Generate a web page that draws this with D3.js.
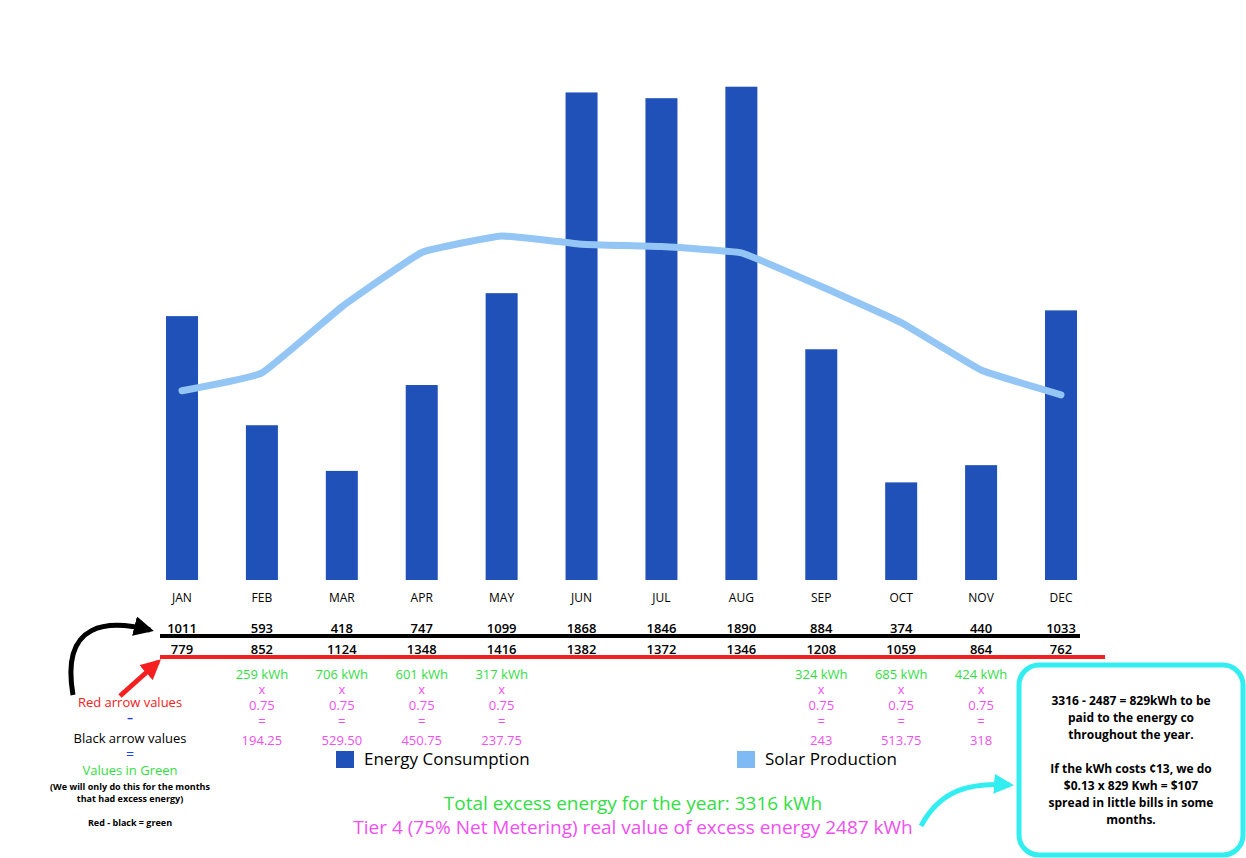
<!DOCTYPE html>
<html><head><meta charset="utf-8">
<script src="https://cdn.jsdelivr.net/npm/d3@7"></script>
<style>body{margin:0;background:#fff}text{font-family:"Open Sans",sans-serif}</style>
</head><body>
<svg id="c" width="1246" height="858"></svg>
<script>
var months = ["JAN","FEB","MAR","APR","MAY","JUN","JUL","AUG","SEP","OCT","NOV","DEC"];
var consumption = [1011,593,418,747,1099,1868,1846,1890,884,374,440,1033];
var solar = [779,852,1124,1348,1416,1382,1372,1346,1208,1059,864,762];
var excess = [null,259,706,601,317,null,null,null,324,685,424,null];
var credited = [null,"194.25","529.50","450.75","237.75",null,null,null,"243","513.75","318",null];

var svg = d3.select("#c");
var x = d3.scalePoint().domain(months).range([182, 1061]);
var yBar = d3.scaleLinear().domain([0, 2000]).range([580, 58]);
var yLine = d3.scaleLinear().domain([0, 2000]).range([580, 94]);

// bars
svg.selectAll("rect.bar").data(consumption).enter().append("rect")
    .attr("x", function(d, i) { return x(months[i]) - 16; })
    .attr("y", function(d) { return yBar(d); })
    .attr("width", 32)
    .attr("height", function(d) { return 580 - yBar(d); })
    .attr("fill", "#1f51b8");

// solar line
var line = d3.line()
    .x(function(d, i) { return x(months[i]); })
    .y(function(d) { return yLine(d); })
    .curve(d3.curveCardinal.tension(0.7));
svg.append("path").datum(solar).attr("d", line)
    .attr("fill", "none").attr("stroke", "#93c5f5").attr("stroke-width", 7)
    .attr("stroke-linecap", "round").attr("stroke-linejoin", "round");

// month labels + value rows
svg.selectAll("text.m").data(months).enter().append("text")
    .attr("x", function(d) { return x(d); }).attr("y", 602).attr("text-anchor", "middle")
    .attr("font-size", 12).text(function(d) { return d; });
svg.selectAll("text.c").data(consumption).enter().append("text")
    .attr("x", function(d, i) { return x(months[i]); }).attr("y", 633).attr("text-anchor", "middle")
    .attr("font-size", 13).attr("font-weight", 600).text(function(d) { return d; });
svg.selectAll("text.s").data(solar).enter().append("text")
    .attr("x", function(d, i) { return x(months[i]); }).attr("y", 654).attr("text-anchor", "middle")
    .attr("font-size", 13).attr("font-weight", 600).text(function(d) { return d; });

svg.append("line").attr("x1", 160).attr("x2", 1080).attr("y1", 636).attr("y2", 636).attr("stroke", "#000").attr("stroke-width", 4);
svg.append("line").attr("x1", 160).attr("x2", 1105).attr("y1", 657).attr("y2", 657).attr("stroke", "#f42020").attr("stroke-width", 4);

// excess calc columns
var rows = [
    {dy: 679, c: "#33dd44", f: function(i) { return excess[i] + " kWh"; }},
    {dy: 694, c: "#f050f0", f: function() { return "x"; }},
    {dy: 710, c: "#f050f0", f: function() { return "0.75"; }},
    {dy: 726, c: "#f050f0", f: function() { return "="; }},
    {dy: 745, c: "#f050f0", f: function(i) { return credited[i]; }}
];
rows.forEach(function(r) {
    svg.selectAll(null).data(months.filter(function(m, i) { return excess[i] != null; })).enter().append("text")
        .attr("x", function(d) { return x(d); }).attr("y", r.dy).attr("text-anchor", "middle")
        .attr("font-family", "Liberation Sans").attr("font-size", 13).attr("fill", r.c)
        .text(function(d) { return r.f(months.indexOf(d)); });
});

// legend
var legend = [{t: "Energy Consumption", c: "#1f51b8", x: 336}, {t: "Solar Production", c: "#7fbaf4", x: 737}];
legend.forEach(function(l) {
    svg.append("rect").attr("x", l.x).attr("y", 751).attr("width", 18).attr("height", 17).attr("fill", l.c);
    svg.append("text").attr("x", l.x + 28).attr("y", 765).attr("font-size", 17).attr("font-weight", 500).text(l.t);
});

// totals
svg.append("text").attr("x", 633).attr("y", 810).attr("text-anchor", "middle").attr("font-family", "Liberation Sans")
    .attr("font-size", 19).attr("fill", "#33dd44").text("Total excess energy for the year: 3316 kWh");
svg.append("text").attr("x", 633).attr("y", 834).attr("text-anchor", "middle").attr("font-family", "Liberation Sans")
    .attr("font-size", 19).attr("fill", "#f050f0").text("Tier 4 (75% Net Metering) real value of excess energy 2487 kWh");

// left legend notes
var notes = [
    {t: "Red arrow values", y: 707, c: "#f42020", s: 13},
    {t: "\u2013", y: 722, c: "#2244ee", s: 12, w: "bold"},
    {t: "Black arrow values", y: 743, c: "#000", s: 13},
    {t: "=", y: 759, c: "#2244ee", s: 14},
    {t: "Values in Green", y: 775, c: "#33dd44", s: 13},
    {t: "(We will only do this for the months", y: 790, c: "#000", s: 9, w: "bold"},
    {t: "that had excess energy)", y: 802, c: "#000", s: 9, w: "bold"},
    {t: "Red - black = green", y: 826, c: "#000", s: 9, w: "bold"}
];
notes.forEach(function(n) {
    svg.append("text").attr("x", 130).attr("y", n.y).attr("text-anchor", "middle").attr("font-family", "Liberation Sans")
        .attr("font-size", n.s).attr("font-weight", n.w || "normal").attr("fill", n.c).text(n.t);
});

// arrows
var defs = svg.append("defs");
[["ab", "#000"], ["ar", "#f42020"], ["ac", "#33eef0"]].forEach(function(m) {
    defs.append("marker").attr("id", m[0]).attr("viewBox", "0 0 10 10").attr("refX", 8).attr("refY", 5)
        .attr("markerWidth", 4).attr("markerHeight", 4).attr("orient", "auto")
        .append("path").attr("d", "M0,0L10,5L0,10z").attr("fill", m[1]);
});
svg.append("path").attr("d", "M73,695 C60,620 110,620 150,630").attr("fill", "none").attr("stroke", "#000").attr("stroke-width", 5).attr("marker-end", "url(#ab)");
svg.append("path").attr("d", "M120,696 L158,662").attr("fill", "none").attr("stroke", "#f42020").attr("stroke-width", 5).attr("marker-end", "url(#ar)");
svg.append("path").attr("d", "M921,826 C940,790 970,782 1010,785").attr("fill", "none").attr("stroke", "#33eef0").attr("stroke-width", 5).attr("marker-end", "url(#ac)");

// note box
svg.append("rect").attr("x", 1019).attr("y", 665).attr("width", 224).attr("height", 190).attr("rx", 20)
    .attr("fill", "#fff").attr("stroke", "#33eef0").attr("stroke-width", 5);
var boxLines = ["3316 - 2487 =  829kWh to be", "paid to the energy co", "throughout the year.", "",
    "If the kWh costs \u00a213, we do", "$0.13 x 829 Kwh = $107", "spread in little bills in some", "months."];
boxLines.forEach(function(t, i) {
    svg.append("text").attr("x", 1131).attr("y", 705 + i * 17).attr("text-anchor", "middle")
        .attr("font-family", "Liberation Sans").attr("font-weight", "bold").attr("font-size", 12).text(t);
});
</script>
</body></html>
